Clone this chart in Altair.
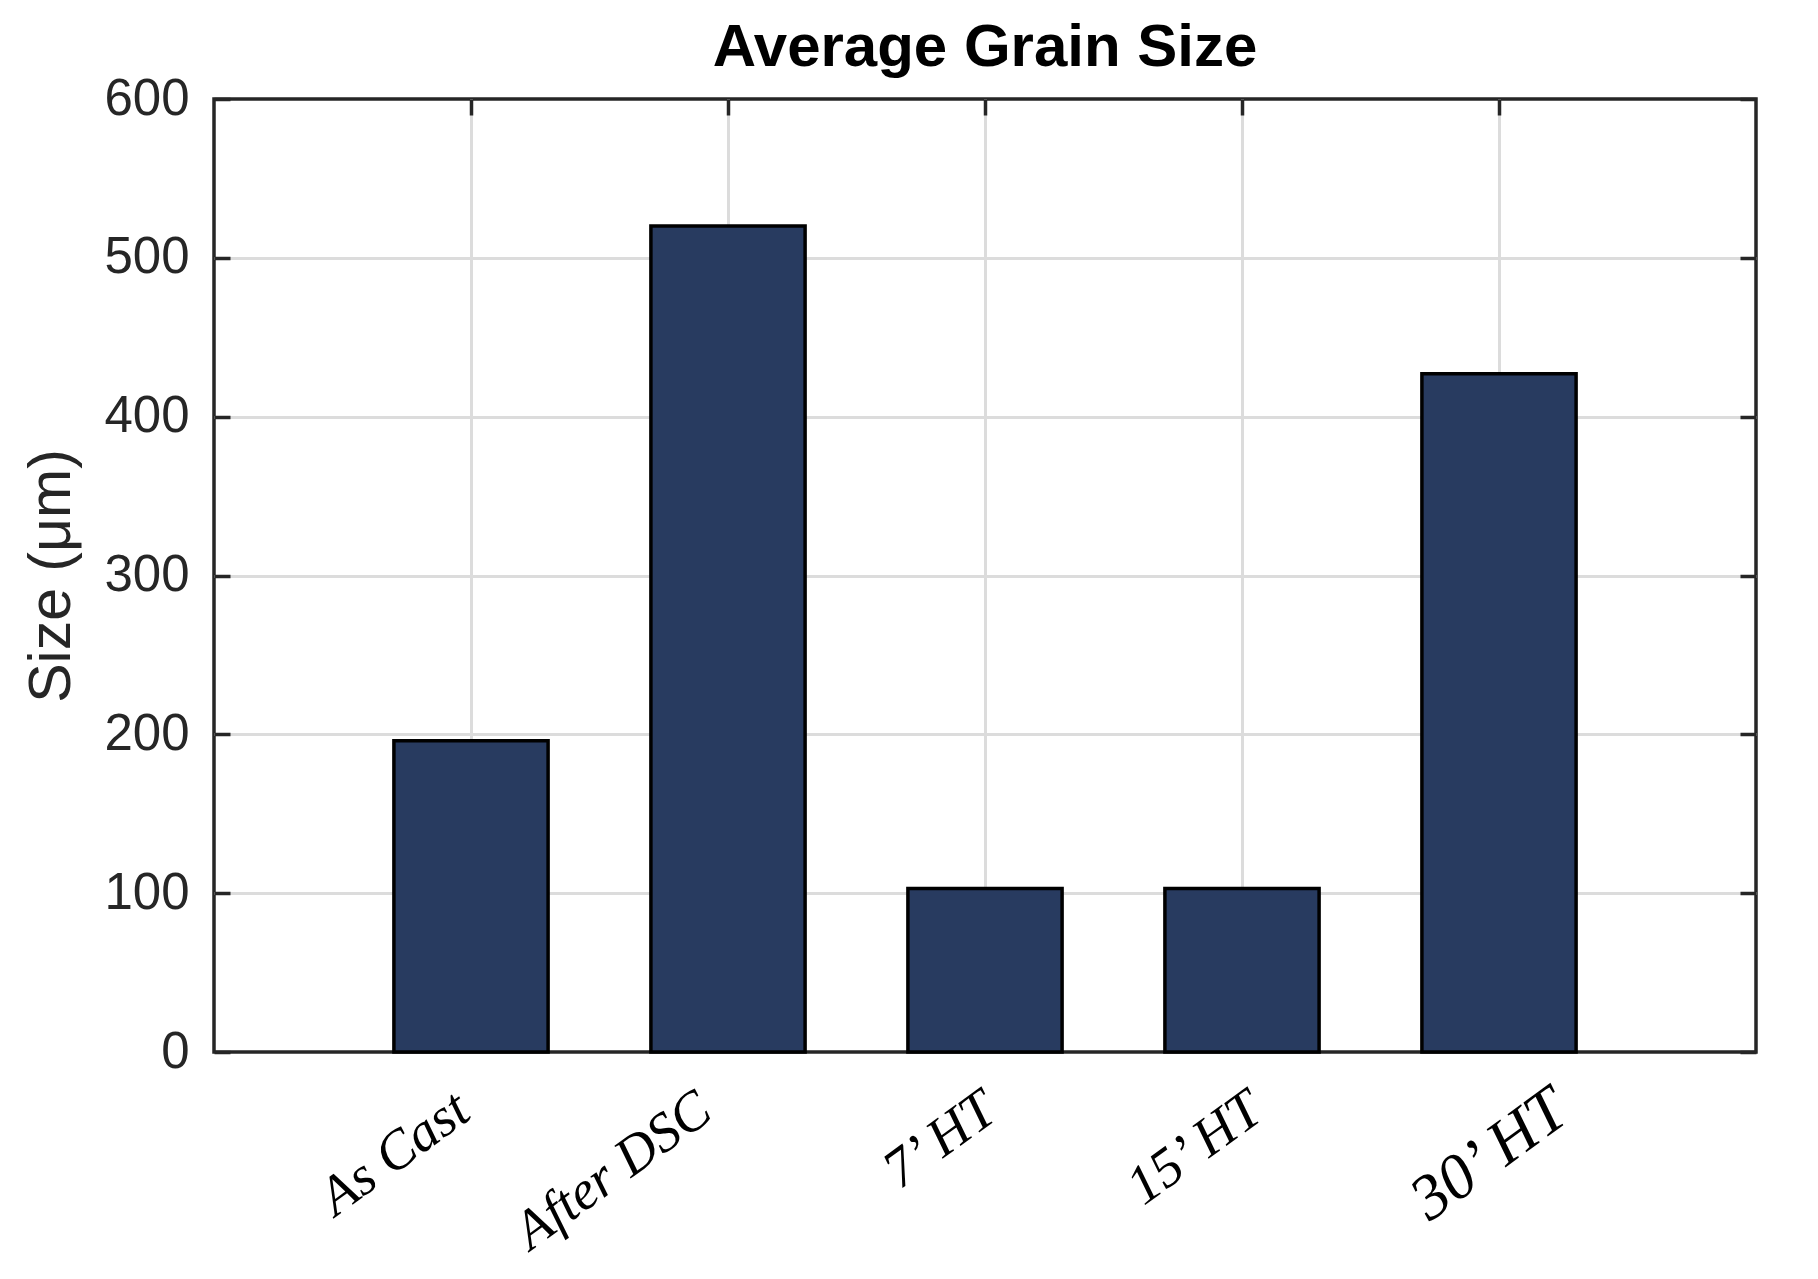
import altair as alt
import pandas as pd

categories = ["As Cast", "After DSC", "7’ HT", "15’ HT", "30’ HT"]
sizes = [196, 520, 103, 103, 427]
y_ticks = [0, 100, 200, 300, 400, 500, 600]
label_shift = [-8, -23, 5, 14, 62]
label_size = [55, 55, 55, 55, 64]

df = pd.DataFrame({"cat": categories, "size": sizes})

BAR = "#283B60"
AX = "#262626"
GRID = "#DCDCDC"
TICK = 16


def per_label(values, default):
    return {
        "condition": [
            {"test": f"datum.value === '{c}'", "value": v}
            for c, v in zip(categories, values)
        ],
        "value": default,
    }


edge_grid = {
    "condition": {"test": "datum.value === 0 || datum.value === 600", "value": 0},
    "value": 1,
}

xscale = alt.Scale(domain=categories, paddingInner=0.4, paddingOuter=0.7, align=0.5)
yscale = alt.Scale(domain=[0, 600], nice=False, zero=True)

base = alt.Chart(df)

bars = base.mark_bar(color=BAR, stroke="black", strokeWidth=3.5).encode(
    x=alt.X("cat:N", scale=xscale, sort=categories,
            axis=alt.Axis(orient="bottom", title=None, grid=True, gridColor=GRID, gridWidth=3,
                          bandPosition=0.5, domain=False, ticks=True, tickSize=TICK,
                          offset=-TICK, tickColor=AX, tickWidth=3.5,
                          labelFont="Liberation Serif", labelFontStyle="italic",
                          labelFontSize=per_label(label_size, 55), labelColor="black",
                          labelAngle=-36, labelAlign="right", labelBaseline="middle",
                          labelPadding=51, labelLimit=0,
                          labelOffset=per_label(label_shift, 0))),
    y=alt.Y("size:Q", scale=yscale,
            axis=alt.Axis(orient="left", values=y_ticks, title="Size (μm)", grid=True,
                          gridColor=GRID, gridWidth=3, gridOpacity=edge_grid,
                          domain=False, tickSize=TICK,
                          offset=-TICK, tickColor=AX, tickWidth=3.5,
                          labelFont="Liberation Sans", labelFontSize=51, labelColor=AX,
                          labelPadding=25, titleFont="Liberation Sans", titleFontSize=59,
                          titleFontWeight="normal", titleColor=AX, titlePadding=22)),
)

frame_axes = base.mark_bar(opacity=0).encode(
    x=alt.X("cat:N", scale=xscale, sort=categories,
            axis=alt.Axis(orient="top", title=None, labels=False, grid=False,
                          bandPosition=0.5, domain=False, tickSize=TICK, offset=-TICK,
                          tickColor=AX, tickWidth=3.5)),
    y=alt.Y("size:Q", scale=yscale,
            axis=alt.Axis(orient="right", values=y_ticks, title=None, labels=False,
                          grid=False, domain=False, tickSize=TICK, offset=-TICK,
                          tickColor=AX, tickWidth=3.5)),
)

chart = (
    alt.layer(bars, frame_axes)
    .resolve_axis(x="independent", y="independent")
    .properties(
        width=1542,
        height=953,
        title=alt.TitleParams("Average Grain Size", font="Liberation Sans", fontSize=60,
                              fontWeight="bold", color="black", anchor="middle", offset=-6),
        padding={"left": 14, "top": 10, "right": 10, "bottom": 10},
    )
    .configure(background="white")
    .configure_view(stroke=AX, strokeWidth=3.5)
)

chart.save("out.html", embed_options={"renderer": "svg", "actions": False})
